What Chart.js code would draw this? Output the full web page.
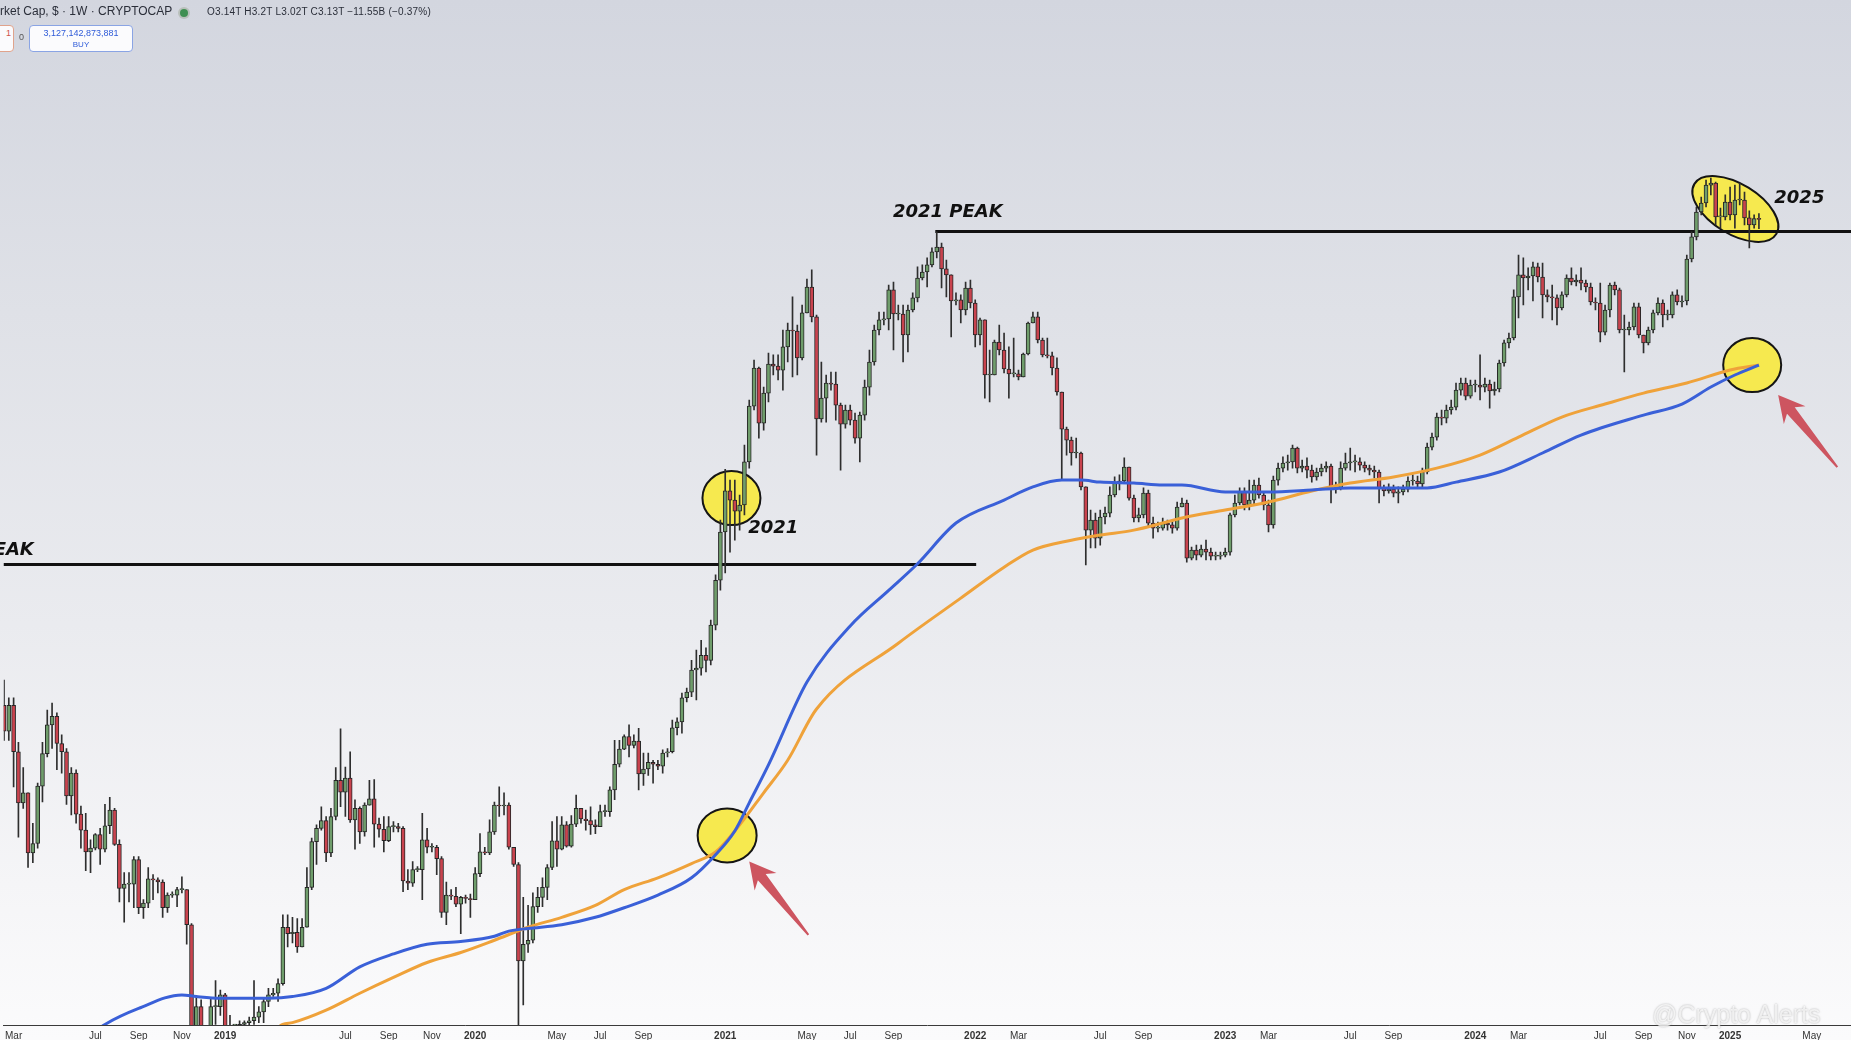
<!DOCTYPE html>
<html>
<head>
<meta charset="utf-8">
<title>Total Market Cap 1W</title>
<script src="https://cdn.jsdelivr.net/npm/chart.js@4.4.1/dist/chart.umd.min.js"></script>
<style>
  html, body { margin: 0; padding: 0; }
  body {
    width: 1851px; height: 1040px; overflow: hidden; position: relative;
    background: linear-gradient(to bottom, #d3d6df 0%, #dfe1e7 30%, #eaebef 60%, #f5f5f7 85%, #fbfbfc 100%);
    font-family: "Liberation Sans", Arial, sans-serif;
  }
  #wrap { position: absolute; left: 0; top: 0; width: 1851px; height: 1040px; }
  .hdr { position: absolute; white-space: nowrap; color: #2a2e39; }
  #title { left: 0; top: 4px; font-size: 12px; }
  #dot { position: absolute; left: 180px; top: 9px; width: 8px; height: 8px; border-radius: 50%; background: #3f8f52; box-shadow: 0 0 0 2px #b9c0bb; }
  #ohlc { left: 207px; top: 6px; font-size: 10px; letter-spacing: 0.2px; }
  .box { position: absolute; top: 25px; height: 25px; border-radius: 4px; background: #fbfbfd; font-size: 9px; text-align: center; line-height: 11px; }
  #sell { left: -40px; width: 50px; border: 1px solid #e0a38c; color: #d0534c; text-align: right; padding-right: 2px; }
  #buy { left: 29px; width: 102px; border: 1px solid #8aa4e4; color: #2f5bd8; }
  #spread { left: 19px; top: 32px; font-size: 9px; color: #555; }
  #mark { left: 1652px; top: 1000px; font-size: 25px; color: rgba(255,255,255,0.75); text-shadow: 0 0 2px rgba(120,120,120,0.6); }
</style>
</head>
<body>
<div id="wrap"><canvas id="chart"></canvas></div>
<div class="hdr" id="title">rket Cap, $ · 1W · CRYPTOCAP</div>
<div id="dot"></div>
<div class="hdr" id="ohlc">O3.14T H3.2T L3.02T C3.13T −11.55B (−0.37%)</div>
<div class="box" id="sell"><div style="padding-top:2px">1</div></div>
<div class="hdr" id="spread">0</div>
<div class="box" id="buy"><div style="padding-top:2px">3,127,142,873,881</div><div style="font-size:8px">BUY</div></div>
<div class="hdr" id="mark">@Crypto Alerts</div>
<script>
// weekly candles, first bar = week of 19 Feb 2018, values in billions USD
const firstOpen = 482;
const closes = [
  436, 482, 403, 331, 344, 273, 283, 353, 400, 447,
  462, 416, 403, 340, 371, 317, 298, 274, 278, 293,
  277, 303, 322, 282, 238, 242, 242, 266, 221, 225,
  247, 246, 244, 221, 232, 232, 237, 237, 207, 136,
  151, 130, 126, 151, 151, 158, 133, 130, 130, 141,
  142, 143, 145, 148, 154, 158, 159, 165, 205, 200,
  201, 190, 205, 239, 285, 300, 309, 273, 314, 361,
  345, 364, 310, 324, 296, 328, 336, 305, 299, 286,
  302, 302, 300, 245, 243, 256, 256, 287, 279, 279,
  267, 217, 232, 231, 224, 230, 229, 228, 252, 274,
  273, 296, 328, 327, 328, 279, 261, 180, 192, 195,
  222, 230, 239, 258, 286, 277, 304, 280, 305, 324,
  311, 309, 304, 302, 320, 320, 348, 384, 407, 427,
  413, 420, 370, 377, 387, 384, 381, 401, 403, 442,
  452, 496, 507, 552, 556, 584, 573, 656, 780, 939,
  1100, 1062, 1018, 1042, 1230, 1525, 1766, 1428, 1603, 1793,
  1779, 1752, 1915, 2044, 2036, 1836, 2183, 2412, 2150, 1451,
  1573, 1667, 1660, 1531, 1423, 1502, 1445, 1348, 1473, 1641,
  1807, 2044, 2125, 2133, 2385, 2174, 2174, 2005, 2208, 2313,
  2497, 2556, 2626, 2761, 2814, 2586, 2527, 2286, 2295, 2208,
  2403, 2268, 2005, 2125, 1719, 1719, 1952, 1893, 1759, 1726,
  1726, 1706, 1864, 2100, 2150, 1967, 1857, 1850, 1766, 1610,
  1396, 1338, 1273, 1273, 1117, 946, 983, 917, 995, 1010,
  1083, 1134, 1143, 1206, 1070, 991, 1003, 1091, 972, 953,
  953, 972, 965, 953, 1034, 1050, 849, 876, 859, 879,
  869, 856, 856, 859, 869, 1003, 1050, 1096, 1042, 1062,
  1125, 1083, 1042, 965, 1147, 1201, 1225, 1230, 1297, 1201,
  1210, 1192, 1161, 1183, 1201, 1210, 1113, 1113, 1201, 1225,
  1230, 1230, 1215, 1201, 1192, 1183, 1113, 1100, 1108, 1091,
  1096, 1108, 1143, 1143, 1130, 1183, 1302, 1353, 1462, 1456,
  1502, 1519, 1622, 1667, 1585, 1654, 1654, 1641, 1660, 1616,
  1629, 1800, 1945, 1982, 2322, 2527, 2497, 2517, 2606, 2507,
  2340, 2322, 2313, 2225, 2340, 2497, 2459, 2478, 2449, 2412,
  2277, 2268, 2028, 2208, 2431, 2385, 2044, 2044, 2068, 2234,
  2005, 1945, 2044, 2183, 2268, 2166, 2166, 2340, 2277, 2286,
  2687, 2925, 3220, 3334, 3572, 3600, 3160, 3160, 3346, 3184,
  3372, 3372, 3147, 3063, 3140, 3130
];
const highs = [
  531, 496, 496, 418, 379, 344, 306, 357, 418, 473,
  486, 468, 430, 408, 379, 376, 327, 318, 287, 294,
  300, 329, 338, 324, 287, 253, 253, 269, 269, 228,
  258, 251, 248, 246, 234, 235, 239, 249, 237, 208,
  157, 155, 138, 156, 167, 161, 159, 146, 138, 143,
  143, 145, 167, 151, 156, 162, 162, 168, 215, 215,
  213, 212, 212, 258, 289, 304, 326, 314, 324, 379,
  440, 380, 403, 335, 326, 331, 361, 362, 312, 314,
  314, 308, 306, 302, 256, 264, 259, 318, 300, 283,
  281, 269, 244, 237, 239, 231, 232, 233, 258, 294,
  279, 310, 332, 352, 344, 331, 279, 263, 230, 223,
  234, 239, 248, 261, 308, 314, 314, 308, 315, 341,
  324, 322, 326, 310, 328, 328, 352, 421, 421, 430,
  447, 430, 441, 401, 401, 390, 390, 406, 408, 455,
  459, 505, 515, 573, 596, 619, 601, 669, 796, 983,
  1196, 1147, 1147, 1083, 1312, 1561, 1821, 1772, 1641, 1871,
  1857, 1857, 2044, 2100, 2322, 2084, 2251, 2488, 2576, 2166,
  1807, 1719, 1739, 1739, 1543, 1531, 1531, 1484, 1490, 1686,
  1893, 2084, 2191, 2191, 2431, 2459, 2251, 2251, 2251, 2358,
  2606, 2626, 2698, 2804, 2982, 2858, 2677, 2527, 2358, 2340,
  2459, 2478, 2295, 2141, 2125, 1893, 1967, 2084, 2021, 1915,
  1982, 1752, 1871, 2108, 2191, 2191, 1982, 1982, 1878, 1836,
  1610, 1407, 1353, 1348, 1278, 1117, 1022, 1010, 1022, 1034,
  1117, 1161, 1170, 1249, 1206, 1083, 1030, 1113, 1104, 995,
  976, 991, 983, 983, 1054, 1070, 1062, 886, 893, 893,
  910, 883, 869, 869, 883, 1010, 1083, 1113, 1113, 1147,
  1147, 1156, 1091, 1062, 1165, 1225, 1254, 1263, 1312, 1302,
  1239, 1249, 1215, 1201, 1220, 1230, 1220, 1138, 1230, 1273,
  1297, 1263, 1249, 1230, 1215, 1210, 1192, 1125, 1130, 1125,
  1117, 1125, 1161, 1170, 1165, 1201, 1322, 1374, 1484, 1502,
  1531, 1561, 1667, 1699, 1699, 1686, 1686, 1857, 1699, 1686,
  1673, 1821, 1967, 2021, 2385, 2729, 2698, 2596, 2656, 2646,
  2646, 2385, 2431, 2340, 2367, 2527, 2596, 2527, 2596, 2478,
  2449, 2313, 2449, 2251, 2449, 2459, 2403, 2166, 2108, 2268,
  2268, 2005, 2068, 2208, 2313, 2295, 2208, 2367, 2385, 2331,
  2729, 2982, 3283, 3411, 3642, 3670, 3614, 3270, 3439, 3545,
  3572, 3600, 3478, 3233, 3184, 3200
];
const lows = [
  421, 421, 352, 290, 324, 258, 263, 278, 332, 395,
  408, 376, 371, 329, 316, 306, 278, 255, 253, 276,
  261, 274, 294, 281, 226, 209, 226, 221, 216, 212,
  221, 228, 234, 213, 217, 230, 222, 234, 192, 130,
  133, 123, 119, 123, 141, 146, 128, 123, 123, 128,
  136, 138, 141, 142, 142, 151, 157, 154, 164, 190,
  193, 186, 190, 205, 237, 261, 298, 264, 269, 310,
  326, 314, 307, 277, 283, 291, 328, 279, 290, 274,
  285, 296, 296, 235, 237, 240, 254, 228, 273, 274,
  251, 213, 207, 228, 222, 200, 225, 213, 228, 249,
  271, 271, 293, 314, 316, 277, 259, 130, 152, 186,
  193, 217, 222, 228, 256, 259, 276, 279, 279, 302,
  306, 298, 293, 294, 302, 314, 314, 335, 380, 406,
  395, 409, 348, 354, 368, 357, 376, 371, 395, 401,
  430, 433, 488, 498, 492, 541, 548, 563, 644, 751,
  802, 869, 910, 946, 1003, 1201, 1502, 1348, 1390, 1549,
  1719, 1686, 1622, 1807, 1706, 1719, 1821, 2183, 2108, 1263,
  1434, 1434, 1622, 1445, 1192, 1401, 1418, 1322, 1230, 1445,
  1591, 1786, 2005, 2084, 2044, 1893, 2125, 1807, 1878, 2191,
  2277, 2478, 2412, 2606, 2698, 2403, 2322, 1990, 2251, 2100,
  2166, 2225, 1915, 1930, 1573, 1549, 1719, 1857, 1732, 1573,
  1706, 1686, 1706, 1857, 2100, 1945, 1843, 1836, 1719, 1591,
  1147, 1263, 1215, 1249, 1104, 827, 883, 883, 893, 969,
  995, 1075, 1104, 1134, 1062, 976, 976, 991, 957, 917,
  939, 946, 946, 935, 946, 1034, 836, 843, 843, 853,
  843, 843, 843, 846, 853, 859, 995, 1042, 1022, 1022,
  1042, 1070, 1022, 939, 953, 1125, 1183, 1192, 1201, 1179,
  1183, 1156, 1138, 1147, 1165, 1183, 1050, 1091, 1104, 1192,
  1192, 1183, 1192, 1183, 1170, 1156, 1050, 1079, 1091, 1075,
  1050, 1083, 1096, 1125, 1113, 1113, 1174, 1288, 1338, 1418,
  1429, 1479, 1502, 1591, 1561, 1573, 1610, 1561, 1610, 1513,
  1591, 1610, 1779, 1908, 1967, 2141, 2251, 2385, 2286, 2459,
  2141, 2277, 2125, 2084, 2208, 2322, 2431, 2422, 2385, 2367,
  2251, 2208, 1952, 2005, 2150, 2340, 2021, 1739, 2005, 2044,
  1982, 1871, 1930, 2021, 2166, 2068, 2125, 2141, 2251, 2234,
  2251, 2656, 2891, 3184, 3283, 3439, 3063, 3027, 3122, 3122,
  3027, 3308, 3063, 2803, 3027, 3020
];

// moving averages (bar index, billions)
const blueWeeks = [14, 21, 28, 37, 40, 45, 52, 55, 60, 67, 74, 81, 88, 95, 102, 105, 109, 116, 123, 129, 136, 143, 148, 152, 155, 159, 167, 176, 184, 190, 198, 208, 214, 220, 224, 228, 235, 241, 245, 254, 263, 272, 280, 289, 296, 302, 311, 320, 328, 341, 349, 355, 360, 365];
const blueVals = [128, 141, 150, 158, 157, 156, 156, 156, 157, 162, 176, 185, 192, 194, 198, 202, 204, 207, 213, 221, 232, 248, 271, 297, 331, 383, 527, 654, 750, 831, 972, 1062, 1117, 1147, 1147, 1138, 1134, 1125, 1125, 1096, 1096, 1104, 1113, 1113, 1113, 1138, 1183, 1273, 1364, 1473, 1537, 1641, 1719, 1786];
const orangeWeeks = [50, 58, 60, 67, 74, 81, 88, 95, 102, 109, 116, 123, 129, 136, 143, 148, 152, 158, 163, 169, 186, 199, 208, 214, 222, 228, 235, 241, 245, 254, 263, 272, 280, 289, 298, 307, 315, 324, 333, 341, 350, 359, 365];
const orangeVals = [125, 141, 142, 149, 159, 169, 179, 186, 195, 205, 213, 223, 237, 248, 262, 274, 297, 344, 390, 475, 612, 728, 820, 876, 910, 928, 946, 972, 991, 1022, 1054, 1100, 1134, 1161, 1201, 1263, 1353, 1462, 1537, 1603, 1667, 1752, 1786];

// time axis labels
const tickMonths = ['2018-03','2018-07','2018-09','2018-11','2019-01','2019-07','2019-09','2019-11','2020-01','2020-05','2020-07','2020-09','2021-01','2021-05','2021-07','2021-09','2022-01','2022-03','2022-07','2022-09','2023-01','2023-03','2023-07','2023-09','2024-01','2024-03','2024-07','2024-09','2024-11','2025-01','2025-05'];
const tickLabels = ['Mar','Jul','Sep','Nov','2019','Jul','Sep','Nov','2020','May','Jul','Sep','2021','May','Jul','Sep','2022','Mar','Jul','Sep','2023','Mar','Jul','Sep','2024','Mar','Jul','Sep','Nov','2025','May'];

const peak2018 = 831;
const peak2021 = 2990;

const startDate = Date.UTC(2018, 1, 19);
const WEEK = 7 * 864e5;
function firstBar(ym) {
  const p = ym.split('-').map(Number);
  let d = new Date(Date.UTC(p[0], p[1] - 1, 1));
  while (d.getUTCDay() !== 1) d = new Date(d.getTime() + 864e5);
  return Math.round((d.getTime() - startDate) / WEEK);
}
const tickPos = tickMonths.map(firstBar);

const opens = closes.map((c, i) => i === 0 ? firstOpen : closes[i - 1]);
const bodyData = closes.map((c, i) => ({ x: i, y: [opens[i], c] }));
const wickData = closes.map((c, i) => ({ x: i, y: [lows[i], highs[i]] }));
const bodyColors = closes.map((c, i) => c >= opens[i] ? '#6f9d6b' : '#c9434e');

const xMin = -0.05, xMax = 384.15;

const circles = [
  { week: 151.3, value: 1070, rx: 29, ry: 27, rot: 0 },
  { week: 150.4, value: 292, rx: 29.5, ry: 27, rot: 0 },
  { week: 360.1, value: 3258, rx: 48, ry: 25, rot: 0.55 },
  { week: 363.6, value: 1786, rx: 29, ry: 27, rot: 0 }
];
const arrows = [
  { tip: [155.0, 264], tail: [167.3, 199] },
  { tip: [369.0, 1591], tail: [381.3, 1206] }
];
const notes = [
  { text: '2021 PEAK', week: 184.9, value: 3215, align: 'left' },
  { text: '2021', week: 154.8, value: 953, align: 'left' },
  { text: '2025', week: 368.2, value: 3395, align: 'left' },
  { text: '2018 PEAK', week: 6.2, value: 876, align: 'right' }
];

const drawings = {
  id: 'drawings',
  beforeDatasetsDraw(chart) {
    const { ctx, scales: { x, y } } = chart;
    ctx.save();
    circles.forEach(c => {
      ctx.beginPath();
      ctx.ellipse(x.getPixelForValue(c.week), y.getPixelForValue(c.value), c.rx, c.ry, c.rot, 0, Math.PI * 2);
      ctx.fillStyle = '#f6e94f';
      ctx.fill();
      ctx.lineWidth = 2;
      ctx.strokeStyle = '#151515';
      ctx.stroke();
    });
    ctx.lineWidth = 3;
    ctx.strokeStyle = '#111';
    let py = Math.round(y.getPixelForValue(peak2018)) + 0.5;
    ctx.beginPath();
    ctx.moveTo(x.getPixelForValue(xMin), py);
    ctx.lineTo(x.getPixelForValue(202.2), py);
    ctx.stroke();
    py = Math.round(y.getPixelForValue(peak2021)) + 0.5;
    ctx.beginPath();
    ctx.moveTo(x.getPixelForValue(193.7), py);
    ctx.lineTo(x.getPixelForValue(xMax), py);
    ctx.stroke();
    ctx.restore();
  },
  afterDatasetsDraw(chart) {
    const { ctx, scales: { x, y } } = chart;
    ctx.save();
    arrows.forEach(a => {
      const tx = x.getPixelForValue(a.tip[0]), ty = y.getPixelForValue(a.tip[1]);
      const sx = x.getPixelForValue(a.tail[0]), sy = y.getPixelForValue(a.tail[1]);
      const len = Math.hypot(sx - tx, sy - ty);
      const ux = (sx - tx) / len, uy = (sy - ty) / len, px = -uy, py = ux;
      const hl = 26, hw = 14, nl = 20, nw = 5;
      ctx.beginPath();
      ctx.moveTo(tx, ty);
      ctx.lineTo(tx + ux * hl + px * hw, ty + uy * hl + py * hw);
      ctx.lineTo(tx + ux * nl + px * nw, ty + uy * nl + py * nw);
      ctx.lineTo(sx + px, sy + py);
      ctx.lineTo(sx - px, sy - py);
      ctx.lineTo(tx + ux * nl - px * nw, ty + uy * nl - py * nw);
      ctx.lineTo(tx + ux * hl - px * hw, ty + uy * hl - py * hw);
      ctx.closePath();
      ctx.fillStyle = '#cd5560';
      ctx.fill();
    });
    ctx.fillStyle = '#111';
    ctx.font = 'italic bold 18px "DejaVu Sans", sans-serif';
    ctx.textBaseline = 'middle';
    notes.forEach(n => {
      ctx.textAlign = n.align;
      ctx.fillText(n.text, x.getPixelForValue(n.week), y.getPixelForValue(n.value));
    });
    ctx.restore();
  }
};

new Chart(document.getElementById('chart'), {
  type: 'bar',
  data: {
    datasets: [
      {
        type: 'line', label: 'MA blue', order: 0,
        data: blueWeeks.map((w, i) => ({ x: w, y: blueVals[i] })),
        borderColor: '#3a60d8', borderWidth: 3, pointRadius: 0,
        cubicInterpolationMode: 'monotone', fill: false
      },
      {
        type: 'line', label: 'MA orange', order: 0,
        data: orangeWeeks.map((w, i) => ({ x: w, y: orangeVals[i] })),
        borderColor: '#efa23a', borderWidth: 3, pointRadius: 0,
        cubicInterpolationMode: 'monotone', fill: false
      },
      {
        label: 'body', order: 1, data: bodyData, grouped: false,
        backgroundColor: bodyColors, borderColor: '#262626', borderWidth: 1,
        borderSkipped: false, barThickness: 4, minBarLength: 1
      },
      {
        label: 'wick', order: 2, data: wickData, grouped: false,
        backgroundColor: '#2e2e2e', barThickness: 1
      }
    ]
  },
  options: {
    responsive: true,
    maintainAspectRatio: false,
    animation: false,
    layout: { padding: 0 },
    plugins: { legend: { display: false }, tooltip: { enabled: false } },
    scales: {
      x: {
        type: 'linear', min: xMin, max: xMax, offset: false,
        grid: { display: false, drawTicks: false },
        border: { display: true, color: '#3a3a3a', width: 1 },
        afterBuildTicks: (scale) => { scale.ticks = tickPos.map(v => ({ value: v })); },
        afterFit: (scale) => { scale.height = 15; },
        ticks: {
          autoSkip: false, maxRotation: 0, padding: 5, color: '#333',
          callback: (v, i) => tickLabels[i],
          font: (ctx) => ({
            family: '"Liberation Sans", Arial, sans-serif',
            size: 10,
            weight: /^\d{4}$/.test(tickLabels[ctx.index]) ? 'bold' : 'normal'
          })
        }
      },
      y: { type: 'logarithmic', min: 140.7, max: 7284, display: false }
    }
  },
  plugins: [drawings]
});
</script>
</body>
</html>
